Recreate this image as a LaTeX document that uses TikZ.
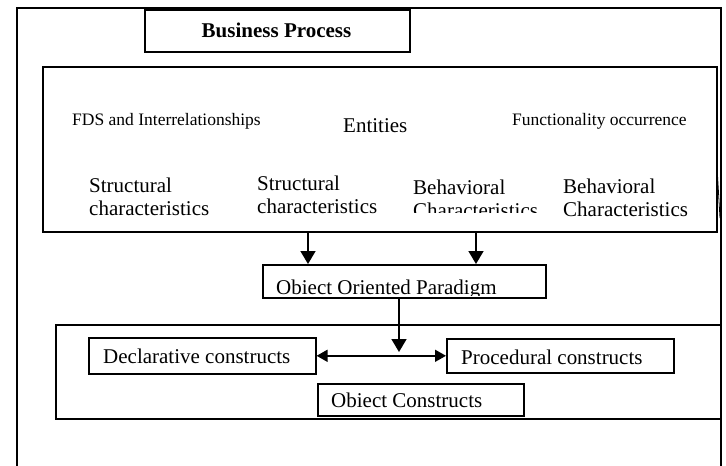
\documentclass[tikz,border=0pt]{standalone}
\usepackage{fontspec}
\setmainfont{Liberation Serif}
\usetikzlibrary{arrows.meta}
\begin{document}
\begin{tikzpicture}[x=1pt,y=-1pt,
  frame/.style={line width=1.6pt},
  box/.style={draw, line width=1.6pt, inner sep=0pt, anchor=north west},
  txt/.style={font=\fontsize{21}{23}\selectfont, anchor=base west, inner sep=0pt, align=left},
  small/.style={font=\fontsize{17.5}{20}\selectfont, anchor=base west, inner sep=0pt},
  arr/.style={line width=1.6pt, -{Triangle[width=15pt,length=13pt]}},
  darr/.style={line width=1.6pt, {Triangle[width=12pt,length=11pt]}-{Triangle[width=12pt,length=11pt]}}]
\useasboundingbox (0,0) rectangle (726,466);

% outer frame (open at the bottom)
\draw[frame] (17,466) -- (17,8) -- (721,8) -- (721,466);

% title box
\node[box, minimum width=265pt, minimum height=42pt] (bp) at (144,9) {};
\node[font=\bfseries\fontsize{21}{23}\selectfont, anchor=base, inner sep=0pt] (bpt) at (276.5,37) {Business Process};

% upper container with characteristics (multi-line nodes sit on their last baseline)
\node[box, minimum width=674pt, minimum height=165pt] (inner) at (42,66) {};
\node[small] (fds) at (72,125) {FDS and Interrelationships};
\node[txt] (ent) at (343,132) {Entities};
\node[small] (func) at (512,125) {Functionality occurrence};
\node[txt] (s1) at (89,215) {Structural\\characteristics};
\node[txt] (s2) at (257,213) {Structural\\characteristics};
\begin{scope}
  \clip (400,165) rectangle (560,212);
  \node[txt] (b1) at (413,217) {Behavioral\\Characteristics};
\end{scope}
\node[txt] (b2) at (563,216) {Behavioral\\Characteristics};
\draw[line width=0.8pt] (717,167) -- (720,218);

% paradigm box
\node[box, minimum width=283pt, minimum height=33pt] (oop) at (262,264) {};
\begin{scope}
  \clip (262,265) rectangle (545,295.5);
  \node[txt] (oopt) at (276,294.5) {Obiect Oriented Paradigm};
\end{scope}

% arrows into the paradigm box
\draw[arr] (308,0 |- inner.south) -- (308,0 |- oop.north);
\draw[arr] (476,0 |- inner.south) -- (476,0 |- oop.north);

% lower container with constructs
\node[box, minimum width=665pt, minimum height=94pt] (lower) at (55,324) {};
\node[box, minimum width=227pt, minimum height=36pt] (decl) at (88,337) {};
\node[txt] (declt) at (103,363) {Declarative constructs};
\node[box, minimum width=227pt, minimum height=34pt] (proc) at (446,338) {};
\node[txt] (proct) at (461,364) {Procedural constructs};
\node[box, minimum width=206pt, minimum height=32pt] (objc) at (317,383) {};
\node[txt] (objct) at (331,407) {Obiect Constructs};

% connectors between constructs
\coordinate (join) at (399,352);
\draw[darr] (decl.east) -- (proc.west);
\draw[arr] (399,0 |- oop.south) -- (join);
\end{tikzpicture}
\end{document}
